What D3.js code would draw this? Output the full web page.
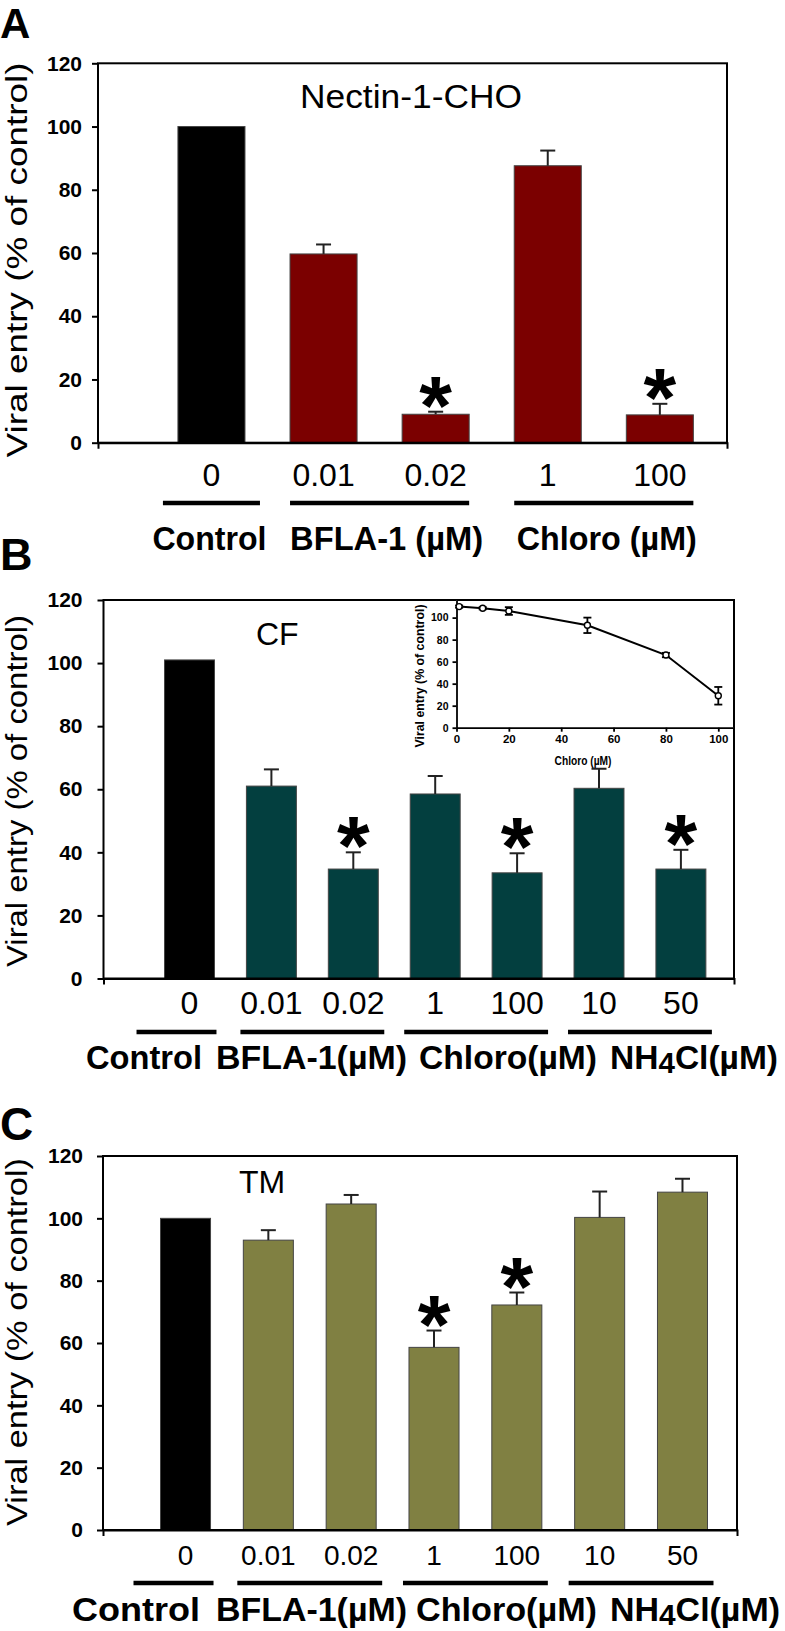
<!DOCTYPE html>
<html>
<head>
<meta charset="utf-8">
<script src="https://cdn.jsdelivr.net/npm/d3@7"></script>
<style>
  html, body { margin: 0; padding: 0; background: #fff; }
  svg { display: block; }
  text { font-family: 'Liberation Sans', Arial, Helvetica, sans-serif; }
</style>
</head>
<body>
<svg id="chart" width="785" height="1631"></svg>
<script>
// ---------------- DATA ----------------
const yTicks = [0, 20, 40, 60, 80, 100, 120];

// Panel A : Nectin-1-CHO
const catsA = ["0", "0.01", "0.02", "1", "100"];
const valsA = [100, 59.7, 9.0, 87.6, 8.8];
const errsA = [0, 3.0, 0.8, 4.8, 3.5];
const sigA  = [false, false, true, false, true];
const groupLabelsA = ["Control", "BFLA-1 (µM)", "Chloro (µM)"];
const groupCatsA = [["0"], ["0.01", "0.02"], ["1", "100"]];

// Panel B : CF
const catsB = ["0", "0.01", "0.02", "1", "100", "10", "50"];
const valsB = [101, 61.0, 34.7, 58.5, 33.5, 60.3, 34.7];
const errsB = [0, 5.3, 5.3, 5.7, 6.2, 6.2, 6.1];
const sigB  = [false, false, true, false, true, false, true];

// Panel C : TM
const catsC = ["0", "0.01", "0.02", "1", "100", "10", "50"];
const valsC = [100, 93.0, 104.6, 58.6, 72.2, 100.3, 108.4];
const errsC = [0, 3.2, 2.9, 5.4, 4.0, 8.3, 4.3];
const sigC  = [false, false, false, true, true, false, false];

const groupLabelsBC = ["Control", "BFLA-1(µM)", "Chloro(µM)", "NH4Cl(µM)"];
const groupCatsBC = [["0"], ["0.01", "0.02"], ["1", "100"], ["10", "50"]];

// Inset (panel B) : chloroquine dose response
const insetX   = [1, 10, 20, 50, 80, 100];
const insetY   = [110, 108.5, 106, 93, 66, 29];
const insetErr = [1, 1, 3.5, 7, 2, 8];
const insetTicks = [0, 20, 40, 60, 80, 100];

// ---------------- DRAWING ----------------
const svg = d3.select("#chart");
const FONT = "'Liberation Sans', Arial, Helvetica, sans-serif";

function panel(cfg) {
  const g = svg.append("g");
  const y = d3.scaleLinear().domain([0, 120]).range([cfg.bottom, cfg.top]);
  const x = d3.scaleBand().domain(cfg.cats).range(cfg.band)
      .paddingInner(cfg.pad).paddingOuter(cfg.pad / 2);
  const bw = x.bandwidth();
  const cx = c => x(c) + bw / 2;

  // panel letter
  g.append("text").attr("x", 0).attr("y", cfg.letterY)
    .attr("font-size", cfg.letterSize).attr("font-weight", "bold").text(cfg.letter);

  // bars
  g.selectAll("rect.bar").data(cfg.cats).join("rect").attr("class", "bar")
    .attr("x", d => x(d)).attr("width", bw)
    .attr("y", (d, i) => y(cfg.vals[i]))
    .attr("height", (d, i) => y(0) - y(cfg.vals[i]))
    .attr("fill", (d, i) => i === 0 ? "#000" : cfg.color)
    .attr("stroke", "#444").attr("stroke-width", 1);

  // error bars (upper)
  const eb = g.selectAll("g.err").data(cfg.cats.map((c, i) => ({c, v: cfg.vals[i], e: cfg.errs[i]}))
      .filter(d => d.e > 0)).join("g").attr("class", "err")
    .attr("stroke", "#222").attr("stroke-width", 2);
  eb.append("line").attr("x1", d => cx(d.c)).attr("x2", d => cx(d.c))
    .attr("y1", d => y(d.v)).attr("y2", d => y(d.v + d.e));
  eb.append("line").attr("x1", d => cx(d.c) - 7.5).attr("x2", d => cx(d.c) + 7.5)
    .attr("y1", d => y(d.v + d.e)).attr("y2", d => y(d.v + d.e));

  // significance stars
  g.selectAll("text.star").data(cfg.cats.map((c, i) => ({c, top: cfg.vals[i] + cfg.errs[i], s: cfg.sig[i]}))
      .filter(d => d.s)).join("text").attr("class", "star")
    .attr("x", d => cx(d.c)).attr("y", d => y(d.top) - 23 + 46)
    .attr("text-anchor", "middle").attr("font-size", 84).attr("font-weight", "bold")
    .text("*");

  // frame
  g.append("rect").attr("x", cfg.left).attr("y", cfg.top)
    .attr("width", cfg.right - cfg.left).attr("height", cfg.bottom - cfg.top)
    .attr("fill", "none").attr("stroke", "#000").attr("stroke-width", 2);

  // y axis
  const ya = g.append("g").attr("transform", `translate(${cfg.left},0)`)
    .call(d3.axisLeft(y).tickValues(yTicks).tickSize(6).tickPadding(cfg.yPad));
  ya.select(".domain").remove();
  ya.selectAll("line").attr("stroke-width", 2);
  ya.selectAll("text").attr("font-size", 21).attr("font-weight", "bold")
    .attr("font-family", FONT).attr("fill", "#000");

  // bottom axis end ticks
  const xl = d3.scaleLinear().range([cfg.left, cfg.right]);
  const xa = g.append("g").attr("transform", `translate(0,${cfg.bottom})`)
    .call(d3.axisBottom(xl).tickValues([]).tickSizeOuter(6));
  xa.select(".domain").attr("stroke-width", 2);

  // category tick labels
  g.selectAll("text.cat").data(cfg.cats).join("text").attr("class", "cat")
    .attr("x", d => cx(d)).attr("y", cfg.catY)
    .attr("text-anchor", "middle").attr("font-size", cfg.catSize).text(d => d);

  // y axis title
  g.append("text")
    .attr("transform", `translate(${cfg.ylabX},${cfg.ylabCY}) rotate(-90)`)
    .attr("text-anchor", "middle").attr("font-size", 30)
    .attr("textLength", cfg.ylabLen).attr("lengthAdjust", "spacingAndGlyphs")
    .text("Viral entry (% of control)");

  // panel title
  const t = g.append("text").attr("x", cfg.titleX).attr("y", cfg.titleY)
    .attr("text-anchor", cfg.titleAnchor).attr("font-size", cfg.titleSize).text(cfg.title);
  if (cfg.titleLen) t.attr("textLength", cfg.titleLen).attr("lengthAdjust", "spacingAndGlyphs");

  // group lines
  cfg.groupCats.forEach((gc, i) => {
    const a = cx(gc[0]), b = cx(gc[gc.length - 1]);
    const ext = gc.length === 1 ? bw / 2 + 15 : bw / 2 + cfg.groupExt;
    const shift = gc.length === 1 ? cfg.singleShift : 0;
    g.append("line").attr("x1", a - ext + shift).attr("x2", b + ext + shift)
      .attr("y1", cfg.lineY).attr("y2", cfg.lineY)
      .attr("stroke", "#000").attr("stroke-width", 4.5);
    if (cfg.groupCentered) {
      g.append("text").attr("x", (a + b) / 2 + (cfg.labelShift[i] || 0)).attr("y", cfg.groupY)
        .attr("text-anchor", "middle").attr("font-size", 34).attr("font-weight", "bold")
        .attr("textLength", cfg.groupLens[i]).attr("lengthAdjust", "spacingAndGlyphs")
        .text(cfg.groupLabels[i]);
    }
  });
  if (!cfg.groupCentered) {
    cfg.groupLabels.forEach((lab, i) => {
      const tx = g.append("text").attr("x", cfg.groupStarts[i]).attr("y", cfg.groupY)
        .attr("font-size", cfg.groupSize || 34).attr("font-weight", "bold")
        .attr("textLength", cfg.groupLens[i]).attr("lengthAdjust", "spacingAndGlyphs");
      const m = lab.match(/^(.*?)(\d)(Cl.*)$/);
      if (m && lab.startsWith("NH")) {
        tx.append("tspan").text(m[1]);
        tx.append("tspan").attr("dy", 4).attr("font-size", (cfg.groupSize || 34) - 4).text(m[2]);
        tx.append("tspan").attr("dy", -4).text(m[3]);
      } else {
        tx.text(lab);
      }
    });
  }
  return {x, y, g};
}

// Panel A
panel({
  letter: "A", letterY: 38, letterSize: 42,
  cats: catsA, vals: valsA, errs: errsA, sig: sigA, color: "#7b0000",
  left: 98, right: 727, top: 63.3, bottom: 442.7,
  band: [155.4, 715.9], pad: 0.402, yPad: 10,
  catY: 486, catSize: 32,
  ylabX: 27, ylabCY: 260, ylabLen: 395,
  title: "Nectin-1-CHO", titleX: 411, titleY: 108, titleAnchor: "middle", titleSize: 34, titleLen: 222,
  groupCats: groupCatsA, groupLabels: groupLabelsA, groupCentered: true,
  groupLens: [114, 193, 180], labelShift: [-2, 7, 3],
  groupExt: 0, singleShift: 0, lineY: 503, groupY: 550
});

// Panel B
panel({
  letter: "B", letterY: 570, letterSize: 45,
  cats: catsB, vals: valsB, errs: errsB, sig: sigB, color: "#033f3f",
  left: 103.5, right: 734, top: 600, bottom: 978.5,
  band: [148.55, 721.85], pad: 0.39, yPad: 15,
  catY: 1014, catSize: 32,
  ylabX: 27, ylabCY: 791, ylabLen: 352,
  title: "CF", titleX: 256, titleY: 645, titleAnchor: "start", titleSize: 32,
  groupCats: groupCatsBC, groupLabels: groupLabelsBC, groupCentered: false,
  groupStarts: [86, 216, 419, 610], groupLens: [116, 191, 178, 168],
  groupExt: 6, singleShift: -13, lineY: 1032, groupY: 1069
});

// Panel C
panel({
  letter: "C", letterY: 1140, letterSize: 46,
  cats: catsC, vals: valsC, errs: errsC, sig: sigC, color: "#808042",
  left: 103, right: 737, top: 1156, bottom: 1530,
  band: [144.1, 723.9], pad: 0.396, yPad: 14,
  catY: 1565, catSize: 28,
  ylabX: 27, ylabCY: 1342, ylabLen: 368,
  title: "TM", titleX: 239, titleY: 1193, titleAnchor: "start", titleSize: 32,
  groupCats: groupCatsBC, groupLabels: groupLabelsBC, groupCentered: false,
  groupStarts: [72, 216, 416, 610], groupLens: [128, 191, 181, 170], groupSize: 33,
  groupExt: 6, singleShift: -12, lineY: 1583, groupY: 1621
});

// ---------------- INSET (panel B) ----------------
(function inset() {
  const L = 456.5, R = 734, T = 600, B = 727.7;
  const xs = d3.scaleLinear().domain([0, 106]).range([L, R]);
  const ys = d3.scaleLinear().domain([0, 116]).range([B, T]);
  const g = svg.append("g");
  g.append("rect").attr("x", L).attr("y", T).attr("width", R - L).attr("height", B - T)
    .attr("fill", "#fff");

  const ya = g.append("g").attr("transform", `translate(${L},0)`)
    .call(d3.axisLeft(ys).tickValues(insetTicks).tickSize(4).tickSizeOuter(0).tickPadding(4));
  ya.selectAll("text").attr("font-size", 10.5).attr("font-weight", "bold").attr("font-family", FONT);
  ya.selectAll("path,line").attr("stroke-width", 1.8);
  const xa = g.append("g").attr("transform", `translate(0,${B})`)
    .call(d3.axisBottom(xs).tickValues(insetTicks).tickSize(4).tickSizeOuter(0).tickPadding(3));
  xa.selectAll("text").attr("font-size", 11.5).attr("font-weight", "bold").attr("font-family", FONT);
  xa.selectAll("path,line").attr("stroke-width", 1.8);

  // top and right borders shared with main frame
  g.append("path").attr("d", `M${L},${T}H${R}V${B}`).attr("fill", "none")
    .attr("stroke", "#000").attr("stroke-width", 2);

  const pts = insetX.map((v, i) => ({x: v, y: insetY[i], e: insetErr[i]}));
  g.append("path").datum(pts)
    .attr("d", d3.line().x(d => xs(d.x)).y(d => ys(d.y)))
    .attr("fill", "none").attr("stroke", "#000").attr("stroke-width", 2);
  const eb = g.selectAll("g.ie").data(pts).join("g").attr("stroke", "#000").attr("stroke-width", 1.8);
  eb.append("line").attr("x1", d => xs(d.x)).attr("x2", d => xs(d.x))
    .attr("y1", d => ys(d.y - d.e)).attr("y2", d => ys(d.y + d.e));
  eb.append("line").attr("x1", d => xs(d.x) - 4).attr("x2", d => xs(d.x) + 4)
    .attr("y1", d => ys(d.y + d.e)).attr("y2", d => ys(d.y + d.e));
  eb.append("line").attr("x1", d => xs(d.x) - 4).attr("x2", d => xs(d.x) + 4)
    .attr("y1", d => ys(d.y - d.e)).attr("y2", d => ys(d.y - d.e));
  g.selectAll("circle").data(pts).join("circle")
    .attr("cx", d => xs(d.x)).attr("cy", d => ys(d.y)).attr("r", 3)
    .attr("fill", "#fff").attr("stroke", "#000").attr("stroke-width", 1.4);

  g.append("text").attr("transform", `translate(424,676) rotate(-90)`)
    .attr("text-anchor", "middle").attr("font-size", 12).attr("font-weight", "bold")
    .attr("textLength", 143).attr("lengthAdjust", "spacingAndGlyphs")
    .text("Viral entry (% of control)");
  g.append("text").attr("x", 583).attr("y", 765).attr("text-anchor", "middle")
    .attr("font-size", 12).attr("font-weight", "bold")
    .attr("textLength", 57).attr("lengthAdjust", "spacingAndGlyphs")
    .text("Chloro (µM)");
})();
</script>
</body>
</html>
